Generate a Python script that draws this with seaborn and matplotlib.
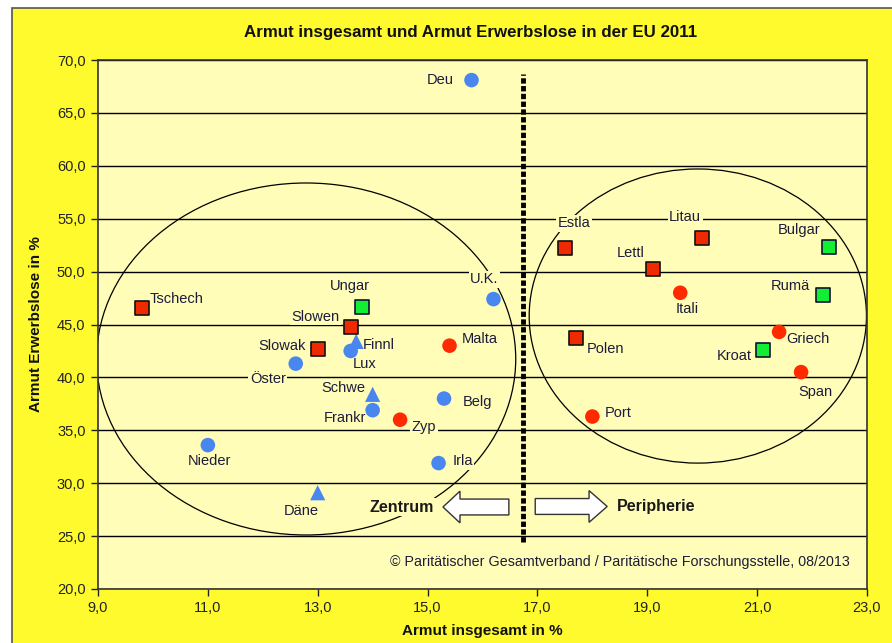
import pandas as pd
import seaborn as sns
import matplotlib.pyplot as plt
from matplotlib.patches import Ellipse, FancyArrow, Rectangle
from matplotlib.ticker import FuncFormatter

# Daten: Armutsquote insgesamt und Armutsquote Erwerbslose, EU 2011
laender = ['Deu', 'U.K.', 'Lux', 'Öster', 'Frankr', 'Belg', 'Nieder', 'Irla',
           'Finnl', 'Schwe', 'Däne',
           'Malta', 'Zyp', 'Itali', 'Griech', 'Span', 'Port',
           'Tschech', 'Slowen', 'Slowak', 'Estla', 'Litau', 'Lettl', 'Polen',
           'Ungar', 'Bulgar', 'Rumä', 'Kroat']
armut_gesamt = [15.8, 16.2, 13.6, 12.6, 14.0, 15.3, 11.0, 15.2,
                13.7, 14.0, 13.0,
                15.4, 14.5, 19.6, 21.4, 21.8, 18.0,
                9.8, 13.6, 13.0, 17.5, 20.0, 19.1, 17.7,
                13.8, 22.3, 22.2, 21.1]
armut_erwerbslose = [68.1, 47.4, 42.5, 41.3, 36.9, 38.0, 33.6, 31.9,
                     43.4, 38.4, 29.1,
                     43.0, 36.0, 48.0, 44.3, 40.5, 36.3,
                     46.6, 44.8, 42.7, 52.2, 53.2, 50.2, 43.7,
                     46.7, 52.3, 47.8, 42.6]
gruppe = ['bk'] * 8 + ['bd'] * 3 + ['rk'] * 6 + ['rq'] * 7 + ['gq'] * 4

df = pd.DataFrame({'land': laender, 'x': armut_gesamt, 'y': armut_erwerbslose, 'gruppe': gruppe})

# Beschriftungsversatz in Pixeln (dx, dy)
versatz = {'Deu': (-31, 0), 'U.K.': (-9, 20), 'Lux': (14, -13), 'Öster': (-28, -15),
           'Frankr': (-28, -8), 'Belg': (33, -3), 'Nieder': (2, -16), 'Irla': (24, 2),
           'Finnl': (23, -4), 'Schwe': (-29, 6), 'Däne': (-16, -18),
           'Malta': (30, 7), 'Zyp': (24, -7), 'Itali': (7, -16), 'Griech': (29, -7),
           'Span': (14, -20), 'Port': (26, 4),
           'Tschech': (35, 9), 'Slowen': (-35, 10), 'Slowak': (-36, 3), 'Estla': (9, 25),
           'Litau': (-17, 21), 'Lettl': (-22, 16), 'Polen': (30, -11),
           'Ungar': (-12, 21), 'Bulgar': (-29, 17), 'Rumä': (-33, 9), 'Kroat': (-28, -6)}

stil = {'bk': dict(marker='o', color='#4A86F0', edgecolor='none', s=110),
        'bd': dict(marker='^', color='#4A86F0', edgecolor='none', s=120),
        'rk': dict(marker='o', color='#FF2A00', edgecolor='none', s=110),
        'rq': dict(marker='s', color='#F02A00', edgecolor='#111111', s=100),
        'gq': dict(marker='s', color='#11EE33', edgecolor='#111133', s=100)}

grenze = 16.74
x_ticks = [9, 11, 13, 15, 17, 19, 21, 23]
y_ticks = [20, 25, 30, 35, 40, 45, 50, 55, 60, 65, 70]

sns.set_style('white')
plt.rcParams['font.family'] = ['Liberation Sans', 'DejaVu Sans']

gelb = '#FFFA2E'
hell = '#FFFDB8'

fig = plt.figure(figsize=(8.92, 6.43), dpi=100)
fig.patch.set_facecolor('white')
fig.add_artist(Rectangle((12 / 892, -0.01), 1.0, 1 - 8 / 643 + 0.01, transform=fig.transFigure,
                         facecolor=gelb, edgecolor='#555555', lw=1.2, zorder=0))

ax = fig.add_axes([98 / 892, 1 - 589 / 643, 769 / 892, 529 / 643])
ax.set_facecolor(hell)

for g, kw in stil.items():
    sns.scatterplot(data=df[df['gruppe'] == g], x='x', y='y', ax=ax, linewidth=1.2,
                    legend=False, zorder=3, **kw)

for _, r in df.iterrows():
    ax.annotate(r['land'], (r['x'], r['y']), xytext=versatz[r['land']], textcoords='offset pixels',
                ha='center', va='center', fontsize=10.5, color='#1C1C3A', zorder=2,
                bbox=dict(boxstyle='square,pad=0.1', fc=hell, ec='none'))

# Ellipsen Zentrum / Peripherie
ax.add_patch(Ellipse((12.79, 41.74), 7.63, 33.27, fill=False, ec='black', lw=0.9, zorder=1))
ax.add_patch(Ellipse((19.92, 45.8), 6.14, 27.8, fill=False, ec='black', lw=0.9, zorder=1))

# Trennlinie
ax.vlines(grenze, 24.45, 68.7, colors='black', lw=3.5, linestyles=(0, (1.1, 0.5)), zorder=2)

# Pfeile
ax.add_patch(FancyArrow(16.48, 27.75, -1.2, 0, width=1.5, head_width=3.0, head_length=0.31,
                        length_includes_head=True, fc='white', ec='#333333', lw=1, zorder=2))
ax.add_patch(FancyArrow(16.96, 27.8, 1.31, 0, width=1.5, head_width=3.0, head_length=0.33,
                        length_includes_head=True, fc='white', ec='#333333', lw=1, zorder=2))
ax.text(14.53, 27.75, 'Zentrum', ha='center', va='center', fontsize=11.5, fontweight='bold',
        color='#1a1a1a', zorder=2, bbox=dict(boxstyle='square,pad=0.12', fc=hell, ec='none'))
ax.text(19.16, 27.8, 'Peripherie', ha='center', va='center', fontsize=11.5, fontweight='bold',
        color='#1a1a1a', zorder=2)
ax.text(18.5, 22.55, '© Paritätischer Gesamtverband / Paritätische Forschungsstelle, 08/2013',
        ha='center', va='center', fontsize=10.3, color='#1C1C3A')

ax.set_xlim(9, 23)
ax.set_ylim(20, 70)
ax.set_xticks(x_ticks)
ax.set_yticks(y_ticks)
ax.xaxis.set_major_formatter(FuncFormatter(lambda v, p: f'{v:.1f}'.replace('.', ',')))
ax.yaxis.set_major_formatter(FuncFormatter(lambda v, p: f'{v:.1f}'.replace('.', ',')))
ax.tick_params(direction='out', length=5, width=1, color='#222222', labelsize=10.5,
               labelcolor='#222222', left=True, bottom=True, pad=4)
ax.yaxis.grid(True, color='black', lw=1)
ax.xaxis.grid(False)
ax.set_axisbelow(True)
for s in ax.spines.values():
    s.set_color('#333333')
    s.set_linewidth(1.2)

ax.set_xlabel('Armut insgesamt in %', fontsize=11, fontweight='bold', color='#111111', labelpad=6)
ax.set_ylabel('Armut Erwerbslose in %', fontsize=11, fontweight='bold', color='#111111', labelpad=10)
fig.text(471 / 892, 1 - 33 / 643, 'Armut insgesamt und Armut Erwerbslose in der EU 2011',
         ha='center', va='center', fontsize=12.2, fontweight='bold', color='#111111')

plt.savefig('out.png', dpi=100, facecolor=fig.get_facecolor())
